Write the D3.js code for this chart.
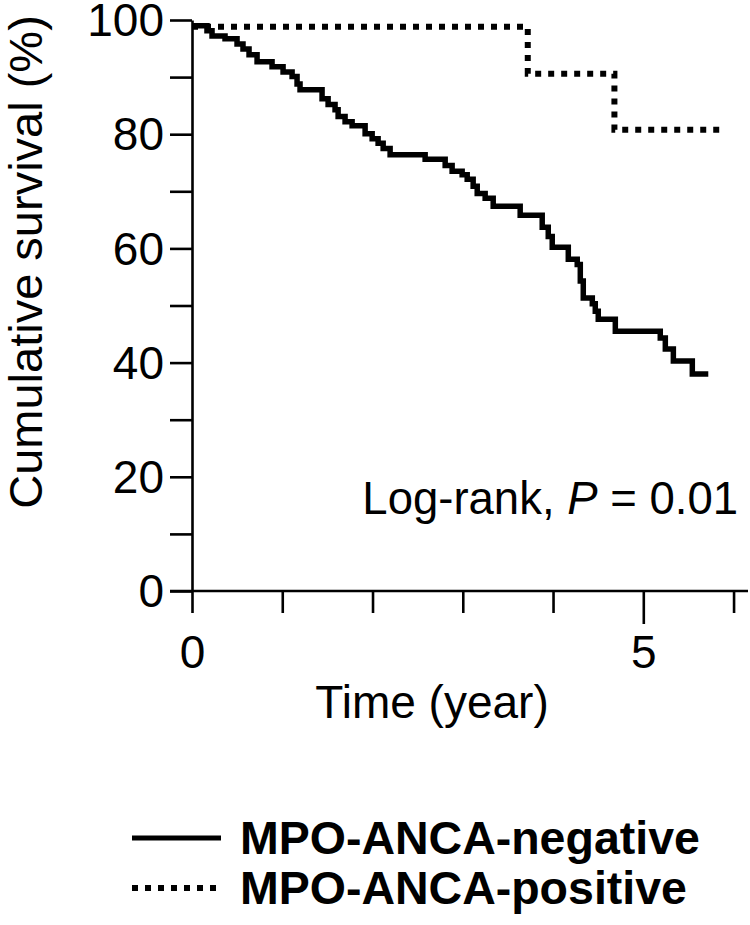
<!DOCTYPE html>
<html><head><meta charset="utf-8">
<script src="https://cdn.jsdelivr.net/npm/d3@7"></script>
<style>
html,body{margin:0;padding:0;background:#fff;}
text{font-family:"Liberation Sans",Arial,Helvetica,sans-serif;fill:#000;}
</style></head>
<body><svg id="chart" width="750" height="925"></svg>
<script>
// Data
const negTimes = [0,0.166,0.222,0.366,0.499,0.565,0.632,0.721,0.887,1.009,1.109,1.164,1.197,1.441,1.508,1.585,1.619,1.696,1.774,1.918,1.996,2.062,2.118,2.195,2.583,2.805,2.882,2.993,3.049,3.115,3.160,3.248,3.337,3.636,3.880,3.947,3.991,4.169,4.268,4.302,4.335,4.435,4.468,4.501,4.690,5.188,5.244,5.333,5.543];
const negSurv  = [99.0,98.1,97.2,96.7,95.8,94.9,93.9,92.7,91.8,90.9,90.1,88.8,87.8,86.2,85.2,84.3,83.1,82.2,81.5,80.1,79.2,78.4,77.5,76.4,75.6,74.5,73.5,72.9,72.1,70.9,69.6,68.8,67.4,65.8,63.7,62.1,60.2,58.1,57.2,54.3,51.3,50.3,49.0,47.6,45.5,44.3,42.4,40.3,38.0];
const negEnd = 5.72;
const posTimes = [0,3.72,4.68];
const posSurv  = [98.8,90.6,80.8];
const posEnd = 5.88;
const yTicks = [0,10,20,30,40,50,60,70,80,90,100];
const yLabels = [0,20,40,60,80,100];
const xTicks = [0,1,2,3,4,5,6];
const xLabels = [0,5];
const seriesNames = ["MPO-ANCA-negative","MPO-ANCA-positive"];
const pText = "Log-rank, ";

const svg = d3.select("#chart");
const x = d3.scaleLinear().domain([0,6.16]).range([192,748]);
const y = d3.scaleLinear().domain([0,100]).range([591,20]);

function stepData(ts, ss, end){
  const pts = ts.map((t,i)=>[t, ss[i]]);
  pts.push([end, ss[ss.length-1]]);
  return pts;
}
const line = d3.line().x(d=>x(d[0])).y(d=>y(d[1])).curve(d3.curveStepAfter);

// Y axis
const yAxis = d3.axisLeft(y).tickValues(yTicks).tickSize(22).tickSizeOuter(0).tickPadding(6)
  .tickFormat(d=> yLabels.includes(d) ? d : "");
const gy = svg.append("g").attr("transform",`translate(${x(0)},0)`).call(yAxis);
gy.selectAll("text").style("font-size","46px").attr("dy","0.34em");

// X axis
const xAxis = d3.axisBottom(x).tickValues(xTicks).tickSize(22).tickSizeOuter(0).tickPadding(16)
  .tickFormat(d=> xLabels.includes(d) ? d : "");
const gx = svg.append("g").attr("transform",`translate(0,${y(0)})`).call(xAxis);
gx.selectAll("text").style("font-size","46px");
gx.selectAll(".tick").filter(d=>d===5).select("line").attr("y2",33);
gx.selectAll(".tick").filter(d=>xLabels.includes(d)).select("text").attr("y",44);
// extend x-axis domain to the left to meet the 0 tick
gx.select(".domain").attr("d",`M${x(0)-22},0H${x.range()[1]}`);
[gx,gy].forEach(g=>{
  g.selectAll("line,path").attr("stroke","#000").attr("stroke-width",2.6);
});

// Curves
svg.append("path").datum(stepData(negTimes,negSurv,negEnd))
  .attr("d",line).attr("fill","none").attr("stroke","#000").attr("stroke-width",5.5);
svg.append("path").datum(stepData(posTimes,posSurv,posEnd))
  .attr("d",line).attr("fill","none").attr("stroke","#000").attr("stroke-width",6)
  .attr("stroke-dasharray","6,7");

// Axis titles
svg.append("text").attr("transform","translate(42,262) rotate(-90)")
  .attr("text-anchor","middle").style("font-size","47px").text("Cumulative survival (%)");
svg.append("text").attr("x",432).attr("y",718).attr("text-anchor","middle")
  .style("font-size","46px").text("Time (year)");

// Log-rank annotation
const ann = svg.append("text").attr("x",738).attr("y",514).attr("text-anchor","end").style("font-size","45.5px");
ann.append("tspan").text(pText);
ann.append("tspan").style("font-style","italic").text("P");
ann.append("tspan").text(" = 0.01");

// Legend
const leg = svg.append("g");
seriesNames.forEach((n,i)=>{
  const yy = 838 + i*50;
  leg.append("line").attr("x1",132).attr("x2",221).attr("y1",yy).attr("y2",yy)
    .attr("stroke","#000").attr("stroke-width",i===0?5:6)
    .attr("stroke-dasharray", i===0 ? null : "6,7");
  leg.append("text").attr("x",240).attr("y",yy+16).style("font-size","46.5px")
    .style("font-weight","bold").text(n);
});
</script></body></html>
